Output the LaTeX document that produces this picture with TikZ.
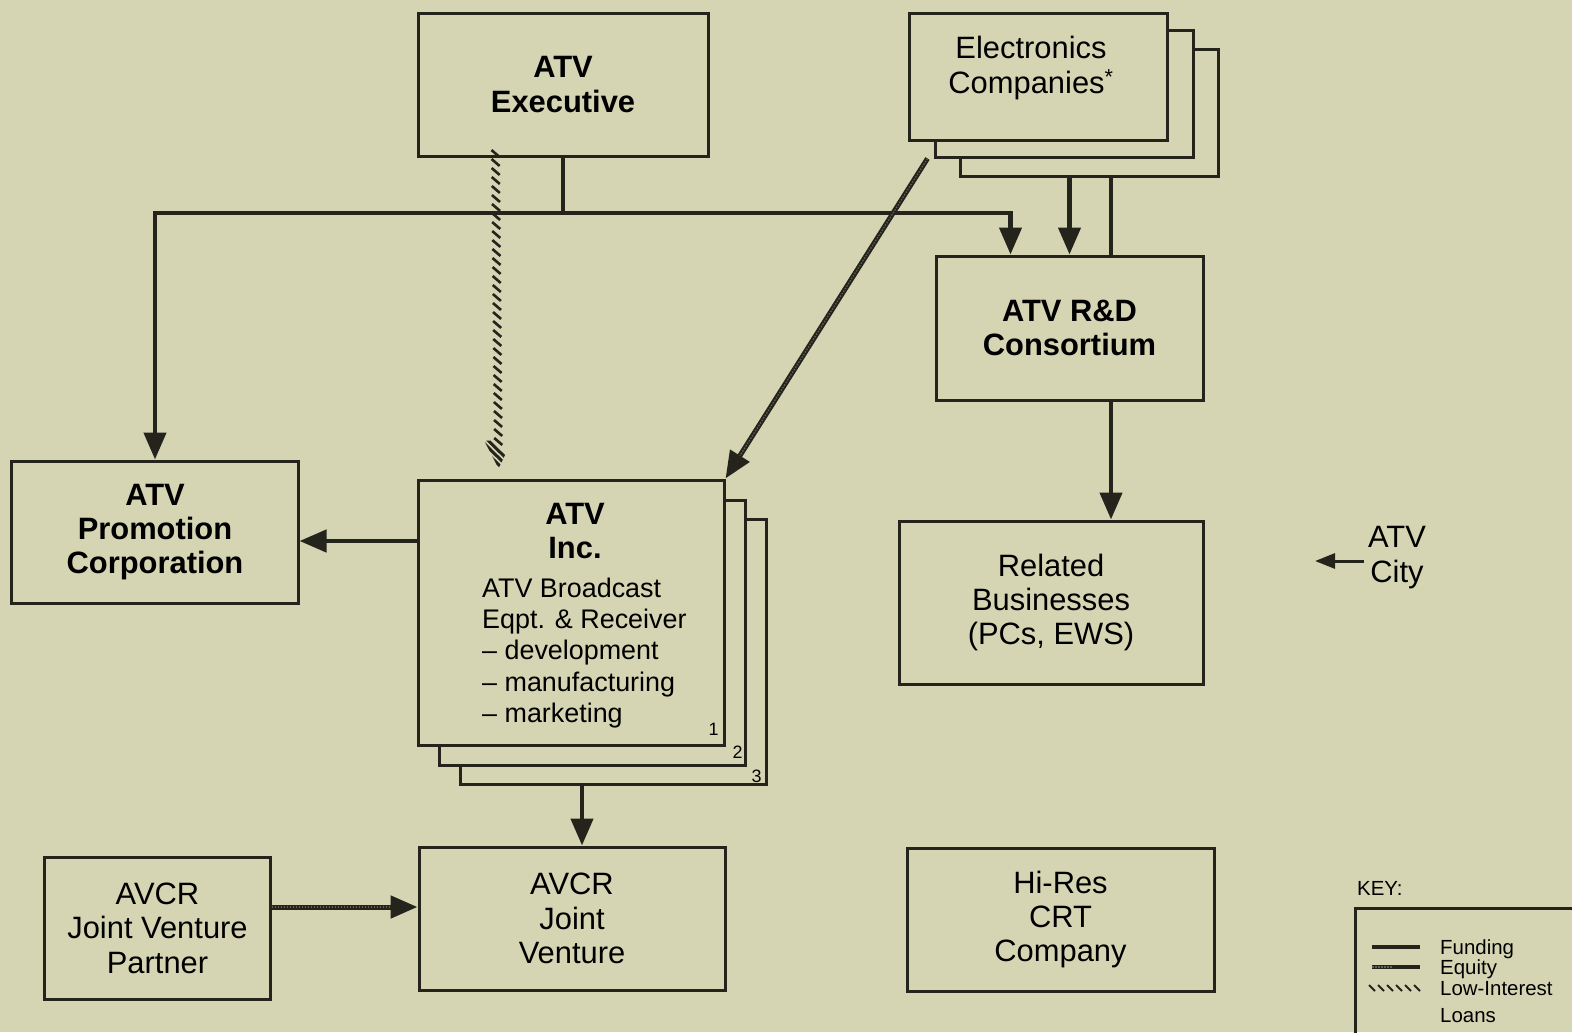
\documentclass[tikz,border=0pt]{standalone}
\usepackage{fontspec}
\setmainfont{Liberation Sans}
\usetikzlibrary{arrows.meta,decorations.markings}
\definecolor{paper}{RGB}{213,213,180}
\definecolor{ink}{RGB}{36,36,28}

\begin{document}
\begin{tikzpicture}[
    x=1bp, y=-1bp,
    >={Triangle[width=22bp,length=27bp]},
    box/.style={
        draw=ink,
        line width=3bp,
        fill=paper,
        inner sep=0pt,
        align=center,
        font=\fontsize{31}{34.5}\selectfont
    },
    boldbox/.style={
        box,
        font=\fontsize{31}{34.5}\selectfont\bfseries
    },
    fund/.style={
        draw=ink,
        line width=4.5bp
    },
    equity/.style={
        draw=ink,
        line width=5bp,
        postaction={draw=paper!35!ink, line width=1.2bp,
            dash pattern=on 1.5bp off 1.5bp, arrows=-, shorten >=27bp}
    },
    loan/.style={
        decoration={markings,
            mark=between positions 0 and 0.92 step 9bp with
                {\draw[ink, line width=2.6bp] (-3.5bp,-4bp) -- (3.5bp,4bp);},
            mark=at position 1 with {
                \begin{scope}
                \clip (0bp,0bp) -- (-28bp,-14bp) -- (-28bp,14bp) -- cycle;
                \foreach \k in {-34,-27,...,14}
                    \draw[ink, line width=3bp] (\k bp,-16bp) -- ++(32bp,32bp);
                \end{scope}}},
        decorate
    },
    keyloan/.style={
        decoration={markings,
            mark=between positions 0 and 1 step 9bp with
                {\draw[ink, line width=1.8bp] (-3bp,3bp) -- (3bp,-3bp);}},
        decorate
    },
    smalltext/.style={
        inner sep=0pt,
        font=\fontsize{20.5}{21}\selectfont
    },
    numtext/.style={
        inner sep=0pt,
        font=\fontsize{18}{18}\selectfont
    }
]

% Paper
\path[fill=paper, use as bounding box] (0,0) rectangle (1572,1032);

% Top row
\node[boldbox, minimum width=290bp, minimum height=143bp] (exec) at (563,84.5) {ATV\\Executive};

\node[box, minimum width=258bp, minimum height=127bp] (elec3) at (1089,112.5) {};
\node[box, minimum width=258bp, minimum height=127bp] (elec2) at (1064,93.5) {};
\node[box, minimum width=258bp, minimum height=127bp] (elec) at (1038,76.5) {};
\node[align=center, inner sep=0pt, font=\fontsize{31}{34.5}\selectfont]
    (electext) at (1031,68) {Electronics\\Companies\textsuperscript{*}};

\node[boldbox, minimum width=267bp, minimum height=144bp] (rd) at (1069.5,328) {ATV R\&D\\Consortium};

% Middle row
\node[boldbox, minimum width=286bp, minimum height=142bp] (promo) at (155,532) {ATV\\Promotion\\Corporation};

\node[box, minimum width=306bp, minimum height=265bp] (inc3) at (613,651.5) {};
\node[box, minimum width=306bp, minimum height=265bp] (inc2) at (592,632.5) {};
\node[box, minimum width=306bp, minimum height=265bp] (inc) at (571,612.5) {};
\node[align=center, inner sep=0pt, font=\fontsize{31}{34.5}\selectfont\bfseries]
    (inctitle) at (575,531) {ATV\\Inc.};
\node[align=left, anchor=west, inner sep=0pt, font=\fontsize{27}{31.5}\selectfont]
    (inclist) at (482,653) {ATV Broadcast\\Eqpt. \& Receiver\\-- development\\-- manufacturing\\-- marketing};
\node[numtext] (num1) at ([xshift=-12bp,yshift=17bp]inc.south east) {1};
\node[numtext] (num2) at ([xshift=-9bp,yshift=14bp]inc2.south east) {2};
\node[numtext] (num3) at ([xshift=-11bp,yshift=9bp]inc3.south east) {3};

\node[box, minimum width=304bp, minimum height=163bp] (rel) at (1051,602.5) {Related\\Businesses\\(PCs, EWS)};

\node[align=center, inner sep=4bp, font=\fontsize{31}{35}\selectfont] (city) at (1397,558) {ATV\\City};

% Bottom row
\node[box, minimum width=225bp, minimum height=142bp] (partner) at (157.5,928) {AVCR\\Joint Venture\\Partner};
\node[box, minimum width=306bp, minimum height=143bp] (jv) at (572,918.5) {AVCR\\Joint\\Venture};
\node[box, minimum width=307bp, minimum height=143bp] (hires) at (1060.5,919.5) {Hi-Res\\CRT\\Company};

% Funding
\coordinate (bus) at (exec.south |- 0,213);
\draw[fund] (exec.south) -- (bus);
\draw[fund,->] (bus) -| (promo.north);
\draw[fund,->] (bus) -| ([xshift=76bp]rd.north west);
\draw[fund,->] (elec3.south -| rd.north) -- (rd.north);
\coordinate (rdtap) at ([xshift=41.5bp]rd.north);
\draw[fund] (elec3.south -| rdtap) -- (rdtap);
\coordinate (reltap) at ([xshift=41.5bp]rd.south);
\draw[fund,->] (reltap) -- (reltap |- rel.north);
\coordinate (promotap) at ([yshift=-9bp]promo.east);
\draw[fund,->] (promotap -| inc.west) -- (promotap);
\coordinate (jvtap) at ([xshift=10bp]jv.north);
\draw[fund,->] (inc3.south -| jvtap) -- (jvtap);
\coordinate (citytip) at (1315,561);
\draw[fund, line width=3bp, -{Triangle[width=15bp,length=20bp]}] (city.west |- citytip) -- (citytip);

% Equity
\draw[equity,->] ([xshift=-6bp]elec2.south west) -- (inc.north east);
\coordinate (ptap) at ([yshift=21bp]partner.east);
\draw[equity,->] (ptap) -- (ptap -| jv.west);

% Low-interest loans
\path[loan] ([xshift=79bp,yshift=4bp]exec.south west) -- ([xshift=82bp,yshift=10bp]inc.north west);

% Key
\node[smalltext, anchor=west] (keytitle) at (1357,888) {KEY:};
\node[draw=ink, line width=3bp, minimum width=240bp, minimum height=134bp] (keybox) at (1475,975) {};
\node[smalltext, anchor=west] (kfund) at (1440,949) {Funding};
\node[smalltext, anchor=west] (kequity) at (1440,969) {Equity};
\node[smalltext, anchor=west] (kloan) at (1440,989) {Low-Interest};
\node[smalltext, anchor=west] (kloan2) at (1440,1016) {Loans};
\draw[fund, line width=3.5bp] (1372,947) -- (1420,947);
\draw[equity, line width=3.5bp, postaction={shorten >=0bp}] (1372,967) -- (1420,967);
\path[keyloan] (1372,988) -- (1420,988);

\end{tikzpicture}
\end{document}
